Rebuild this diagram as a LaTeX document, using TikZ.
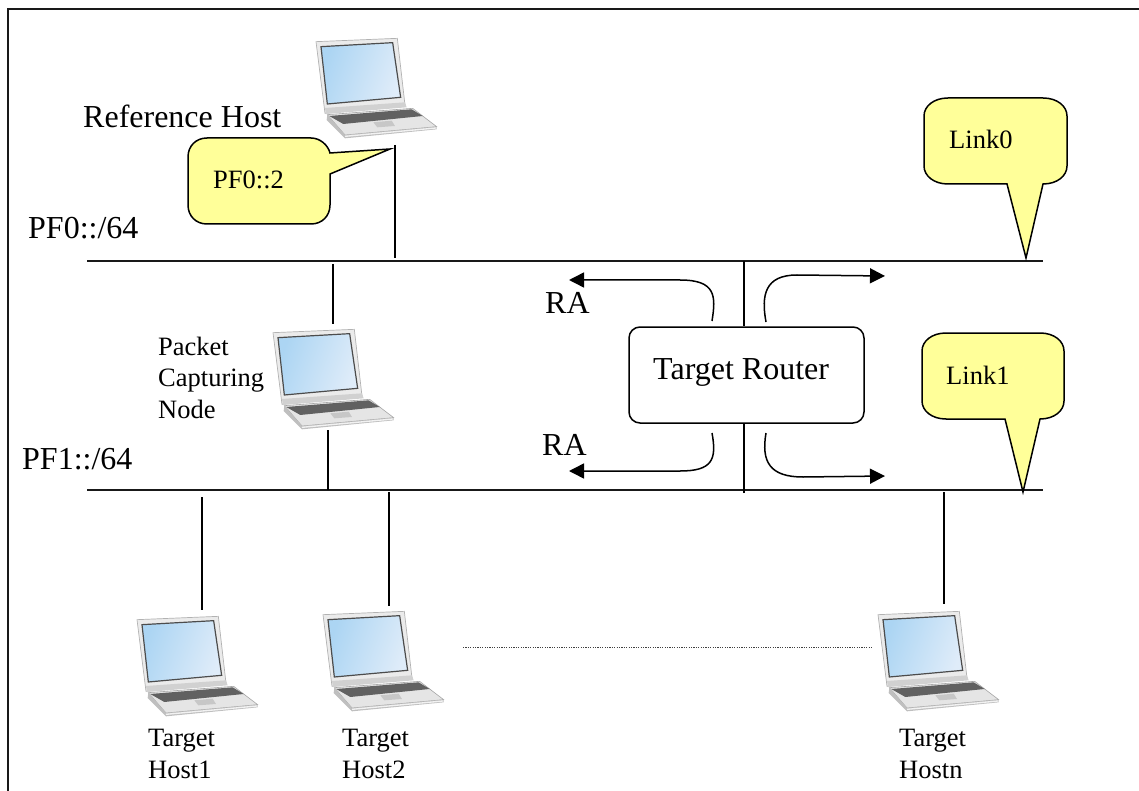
\documentclass[tikz,border=0pt]{standalone}
\usepackage{fontspec}
\setmainfont{Liberation Serif}
\usetikzlibrary{arrows.meta,calc}
\definecolor{balloon}{HTML}{FFFF99}
\definecolor{scrA}{HTML}{ACD5F3}
\definecolor{scrB}{HTML}{DFECF9}
\tikzset{
  x=1pt,y=-1pt,
  wire/.style={line width=1.6pt,black},
  framewire/.style={line width=2pt,black!90},
  netline/.style={line width=1.7pt,black!90},
  flow/.style={line width=1.5pt,black,-{Triangle[length=15pt,width=15pt]}},
  callout/.style={line width=1.5pt,draw=black,fill=balloon,rounded corners=0pt},
  big/.style={inner sep=0pt,anchor=base west,font=\fontsize{32}{32}\selectfont},
  mid/.style={inner sep=0pt,anchor=base west,font=\fontsize{26.5}{26.5}\selectfont},
  laptop/.pic={
    % lid
    \fill[white!92!black] (78,65)--(322,55)--(345,255)--(105,280)--cycle;
    \draw[black!30,line width=.7pt] (78,65)--(322,55)--(345,255)--(105,280)--cycle;
    % screen
    \shade[left color=scrA,right color=scrB,shading angle=70] (93,80)--(308,68)--(332,232)--(112,252)--cycle;
    \draw[black!70,line width=1.2pt] (93,80)--(308,68)--(332,232)--(112,252)--cycle;
    % hinge strip
    \fill[black!18] (105,264)--(345,247)--(350,262)--(108,282)--cycle;
    % base
    \fill[black!10] (112,284)--(368,265)--(440,320)--(165,345)--cycle;
    \draw[black!35,line width=.6pt] (112,284)--(368,265)--(440,320)--(165,345)--cycle;
    \fill[black!25] (112,284)--(165,345)--(440,320)--(440,328)--(165,355)--(110,300)--cycle;
    \fill[white!95!black] (165,347)--(438,322)--(438,326)--(165,351)--cycle;
    % keyboard
    \fill[black!62] (118,288)--(365,268)--(398,288)--(160,312)--cycle;
    % touchpad
    \fill[black!22] (250,307)--(305,302)--(315,318)--(262,322)--cycle;
  }
}
\begin{document}
\begin{tikzpicture}
\useasboundingbox (0,0) rectangle (1139,791);
% page frame (open at right and bottom)
\coordinate (frameTL) at (7.5,9.5);
\coordinate (frameTR) at (1139,9.5);
\coordinate (frameBL) at (7.5,791);
\draw[framewire] (frameBL) -- (frameTL) -- (frameTR);

% buses
\coordinate (bus0W) at (87,261);
\coordinate (bus0E) at (1043,261);
\coordinate (bus1W) at (87,490);
\coordinate (bus1E) at (1043,490);
\draw[netline] (bus0W) -- (bus0E);
\draw[netline] (bus1W) -- (bus1E);

% router
\node[draw,line width=1.5pt,rounded corners=11pt,fill=white,minimum width=235pt,minimum height=96pt,inner sep=0pt] (router) at (746.5,375) {};
\node[big] (routertext) at (653,379) {Target Router};

% stems
\coordinate (refA) at (395,145);   \coordinate (refB) at (395,258);
\coordinate (capA) at (333,264);   \coordinate (capB) at (333,324);
\coordinate (capC) at (328,430);   \coordinate (capD) at (328,490);
\coordinate (upT)  at (744,261);
\coordinate (dnB)  at (744,493);
\coordinate (h1A)  at (202,497);   \coordinate (h1B)  at (202,610);
\coordinate (h2A)  at (389,492);   \coordinate (h2B)  at (389,606);
\coordinate (hnA)  at (944,492);   \coordinate (hnB)  at (944,604);
\draw[wire] (refA) -- (refB);
\draw[wire] (capA) -- (capB);
\draw[wire] (capC) -- (capD);
\draw[wire] (upT) -- (upT |- router.north);
\draw[wire] (dnB) -- (dnB |- router.south);
\draw[wire] (h1A) -- (h1B);
\draw[wire] (h2A) -- (h2B);
\draw[wire] (hnA) -- (hnB);

% laptops
\pic (lapref) [scale=0.3333] at (290,20) {laptop};
\pic (lapcap) [scale=0.3333] at (247,311) {laptop};
\pic (laph1)  [scale=0.3333] at (111,598) {laptop};
\pic (laph2)  [scale=0.3333] at (297,593) {laptop};
\pic (laphn)  [scale=0.3333] at (852,593) {laptop};

% dotted link
\coordinate (dotA) at (463,647);
\coordinate (dotB) at (873,647);
\draw[line width=1pt,black!75,dash pattern=on 1.2pt off 1.2pt] (dotA) -- (dotB);

% RA arrows
\coordinate (tlS) at (712,321); \coordinate (tlE) at (569,280);
\coordinate (trS) at (766,322); \coordinate (trE) at (885,276);
\coordinate (blS) at (712,433); \coordinate (blE) at (569,471);
\coordinate (brS) at (766,433); \coordinate (brE) at (885,476);
\draw[flow] (tlS) .. controls (716,296) and (716,280) .. (680,280) -- (tlE);
\draw[flow] (trS) .. controls (761,295) and (765,275) .. (797,275) -- (trE);
\draw[flow] (blS) .. controls (717,460) and (712,471) .. (680,471) -- (blE);
\draw[flow] (brS) .. controls (761,462) and (770,477) .. (803,477) -- (brE);

% callouts
\coordinate (pfTip) at (390,149);
\draw[callout] (207,138) -- (311,138) .. controls (320,138) and (328,145) .. (330,153) -- (pfTip) -- (330,174) -- (330,205)
  .. controls (330,216) and (322,224) .. (311,224) -- (207,224) .. controls (196,224) and (188,216) .. (188,205)
  -- (188,157) .. controls (188,146) and (196,138) .. (207,138) -- cycle;
\coordinate (l0Tip) at (1026,258);
\draw[callout] (948,98) -- (1043,98) .. controls (1057,98) and (1067,106) .. (1067,116) -- (1067,166)
  .. controls (1067,176) and (1057,184) .. (1043,184) -- (l0Tip) -- (1007,184) -- (948,184)
  .. controls (934,184) and (924,176) .. (924,166) -- (924,116) .. controls (924,106) and (934,98) .. (948,98) -- cycle;
\coordinate (l1Tip) at (1023,492);
\draw[callout] (946,333) -- (1040,333) .. controls (1054,333) and (1064,341) .. (1064,351) -- (1064,401)
  .. controls (1064,411) and (1054,419) .. (1040,419) -- (l1Tip) -- (1005,419) -- (946,419)
  .. controls (932,419) and (922,411) .. (922,401) -- (922,351) .. controls (922,341) and (932,333) .. (946,333) -- cycle;

% labels
\node[big] (lblref) at (83,128) {Reference Host};
\node[big] (lblpf0) at (28,239) {PF0::/64};
\node[big] (lblpf1) at (22,469) {PF1::/64};
\node[big] (lblra1) at (545,313) {RA};
\node[big] (lblra2) at (542,455) {RA};
\node[mid] (lblpf02) at (213,189) {PF0::2};
\node[mid] (lbll0) at (949,149) {Link0};
\node[mid] (lbll1) at (946,384) {Link1};
\node[mid] (lblc1) at (158,355) {Packet};
\node[mid] (lblc2) at (158,386) {Capturing};
\node[mid] (lblc3) at (158,418) {Node};
\node[mid] (lblh1a) at (148,746) {Target};
\node[mid] (lblh1b) at (148,778) {Host1};
\node[mid] (lblh2a) at (342,746) {Target};
\node[mid] (lblh2b) at (342,778) {Host2};
\node[mid] (lblhna) at (899,746) {Target};
\node[mid] (lblhnb) at (899,778) {Hostn};
\end{tikzpicture}
\end{document}
